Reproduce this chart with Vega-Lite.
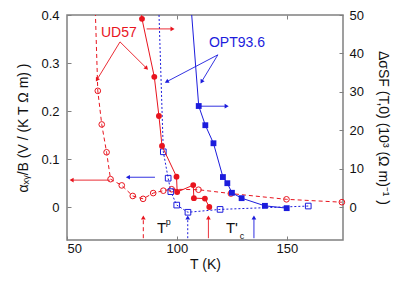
{
  "$schema": "https://vega.github.io/schema/vega-lite/v6.json",
  "width": 276,
  "height": 225,
  "autosize": {"type": "none"},
  "padding": {"left": 67, "top": 15, "right": 71, "bottom": 41},
  "background": "white",
  "config": {
    "font": "Liberation Sans",
    "view": {"stroke": "#808080", "strokeWidth": 1.5},
    "axis": {"grid": false, "domain": false, "tickColor": "#808080", "tickSize": -4, "labelFont": "Liberation Sans", "titleFont": "Liberation Sans", "labelFontSize": 13, "titleFontSize": 14, "titleFontWeight": "normal", "labelColor": "#111", "titleColor": "#111"}
  },
  "datasets": {
    "alpha": [
      {"T": 62.6, "v": 0.45, "sample": "UD57", "s": "UD57 α", "ext": true},
      {"T": 64.0, "v": 0.242, "sample": "UD57", "s": "UD57 α"},
      {"T": 65.8, "v": 0.172, "sample": "UD57", "s": "UD57 α"},
      {"T": 68.0, "v": 0.114, "sample": "UD57", "s": "UD57 α"},
      {"T": 69.8, "v": 0.058, "sample": "UD57", "s": "UD57 α"},
      {"T": 74.9, "v": 0.045, "sample": "UD57", "s": "UD57 α"},
      {"T": 79.9, "v": 0.023, "sample": "UD57", "s": "UD57 α"},
      {"T": 84.6, "v": 0.017, "sample": "UD57", "s": "UD57 α"},
      {"T": 89.2, "v": 0.029, "sample": "UD57", "s": "UD57 α"},
      {"T": 93.8, "v": 0.034, "sample": "UD57", "s": "UD57 α"},
      {"T": 97.6, "v": 0.037, "sample": "UD57", "s": "UD57 α"},
      {"T": 109.8, "v": 0.036, "sample": "UD57", "s": "UD57 α"},
      {"T": 124.5, "v": 0.028, "sample": "UD57", "s": "UD57 α"},
      {"T": 149.8, "v": 0.016, "sample": "UD57", "s": "UD57 α"},
      {"T": 175.0, "v": 0.010, "sample": "UD57", "s": "UD57 α"},
      {"T": 91.5, "v": 0.45, "sample": "OPT93.6", "s": "OPT93.6 α", "ext": true},
      {"T": 93.8, "v": 0.115, "sample": "OPT93.6", "s": "OPT93.6 α"},
      {"T": 96.0, "v": 0.060, "sample": "OPT93.6", "s": "OPT93.6 α"},
      {"T": 97.2, "v": 0.032, "sample": "OPT93.6", "s": "OPT93.6 α"},
      {"T": 99.9, "v": 0.004, "sample": "OPT93.6", "s": "OPT93.6 α"},
      {"T": 105.0, "v": -0.011, "sample": "OPT93.6", "s": "OPT93.6 α"},
      {"T": 119.6, "v": -0.005, "sample": "OPT93.6", "s": "OPT93.6 α"},
      {"T": 159.7, "v": 0.002, "sample": "OPT93.6", "s": "OPT93.6 α"}
    ],
    "sigma": [
      {"T": 83.5, "v": 53, "sample": "UD57", "s": "UD57 Δσ", "ext": true},
      {"T": 84.1, "v": 49.0, "sample": "UD57", "s": "UD57 Δσ"},
      {"T": 89.7, "v": 33.9, "sample": "UD57", "s": "UD57 Δσ"},
      {"T": 91.8, "v": 23.7, "sample": "UD57", "s": "UD57 Δσ"},
      {"T": 93.2, "v": 15.9, "sample": "UD57", "s": "UD57 Δσ"},
      {"T": 99.8, "v": 7.9, "sample": "UD57", "s": "UD57 Δσ"},
      {"T": 100.1, "v": 3.9, "sample": "UD57", "s": "UD57 Δσ"},
      {"T": 107.4, "v": 5.7, "sample": "UD57", "s": "UD57 Δσ"},
      {"T": 107.7, "v": 2.3, "sample": "UD57", "s": "UD57 Δσ"},
      {"T": 112.7, "v": 2.2, "sample": "UD57", "s": "UD57 Δσ"},
      {"T": 114.7, "v": 0.0, "sample": "UD57", "s": "UD57 Δσ"},
      {"T": 106.3, "v": 53, "sample": "OPT93.6", "s": "OPT93.6 Δσ", "ext": true},
      {"T": 109.9, "v": 26.3, "sample": "OPT93.6", "s": "OPT93.6 Δσ"},
      {"T": 112.9, "v": 21.3, "sample": "OPT93.6", "s": "OPT93.6 Δσ"},
      {"T": 116.6, "v": 16.6, "sample": "OPT93.6", "s": "OPT93.6 Δσ"},
      {"T": 120.9, "v": 7.8, "sample": "OPT93.6", "s": "OPT93.6 Δσ"},
      {"T": 122.9, "v": 6.2, "sample": "OPT93.6", "s": "OPT93.6 Δσ"},
      {"T": 125.0, "v": 3.7, "sample": "OPT93.6", "s": "OPT93.6 Δσ"},
      {"T": 129.4, "v": 2.3, "sample": "OPT93.6", "s": "OPT93.6 Δσ"},
      {"T": 140.0, "v": 0.3, "sample": "OPT93.6", "s": "OPT93.6 Δσ"},
      {"T": 149.9, "v": -0.3, "sample": "OPT93.6", "s": "OPT93.6 Δσ"}
    ],
    "pointers": [
      {"T": 74.1, "v": 0.344, "T2": 63.6, "v2": 0.265, "sample": "UD57"},
      {"T": 74.1, "v": 0.344, "T2": 86.2, "v2": 0.289, "sample": "UD57"},
      {"T": 118.6, "v": 0.317, "T2": 95.3, "v2": 0.261, "sample": "OPT93.6"},
      {"T": 118.6, "v": 0.317, "T2": 111.2, "v2": 0.261, "sample": "OPT93.6"},
      {"T": 86.2, "v": 0.371, "T2": 98.0, "v2": 0.371, "sample": "UD57"},
      {"T": 110.1, "v": 0.210, "T2": 122.6, "v2": 0.210, "sample": "OPT93.6"},
      {"T": 69.5, "v": 0.056, "T2": 52.1, "v2": 0.056, "sample": "UD57"},
      {"T": 90.0, "v": 0.062, "T2": 77.7, "v2": 0.062, "sample": "OPT93.6"}
    ],
    "tmarks": [
      {"T": 84.7, "v": -0.065, "v2": -0.022, "sample": "UD57", "s": "UD57 α"},
      {"T": 104.9, "v": -0.065, "v2": -0.022, "sample": "OPT93.6", "s": "OPT93.6 α"},
      {"T": 114.3, "v": -0.065, "v2": -0.022, "sample": "UD57", "s": "UD57 Δσ"},
      {"T": 135.0, "v": -0.065, "v2": -0.022, "sample": "OPT93.6", "s": "OPT93.6 Δσ"}
    ]
  },
  "layer": [
    {
      "layer": [
        {
          "mark": {"type": "rule", "color": "#707070", "strokeWidth": 1},
          "encoding": {"y": {"datum": 0}}
        },
        {
          "data": {"name": "alpha"},
          "mark": {"type": "line", "strokeWidth": 1, "clip": true},
          "encoding": {
            "x": {"field": "T", "type": "quantitative", "scale": {"domain": [50, 175.5], "nice": false, "zero": false}, "axis": {"orient": "bottom", "values": [50, 100, 150], "title": "T (K)", "labelPadding": 6, "titlePadding": 2}},
            "y": {"field": "v", "type": "quantitative", "scale": {"domain": [-0.06875, 0.4], "nice": false, "zero": false}, "axis": {"orient": "left", "values": [0, 0.1, 0.2, 0.3, 0.4], "format": "~g", "title": "αₓᵧ/B (V / (K T Ω m) )", "labelPadding": 12, "titlePadding": 10}},
            "color": {"field": "sample", "type": "nominal", "scale": {"domain": ["UD57", "OPT93.6"], "range": ["#e8141e", "#1c1cdc"]}, "legend": null},
            "strokeDash": {"field": "s", "type": "nominal", "scale": {"domain": ["UD57 α", "OPT93.6 α", "UD57 Δσ", "OPT93.6 Δσ"], "range": [[4, 3], [2, 2], [1, 0], [1, 0]]}, "legend": null},
            "detail": {"field": "s"}
          }
        },
        {
          "data": {"name": "alpha"},
          "transform": [{"filter": "!datum.ext"}],
          "mark": {"type": "point", "filled": false, "strokeWidth": 1, "size": 32, "opacity": 1},
          "encoding": {
            "x": {"field": "T", "type": "quantitative"},
            "y": {"field": "v", "type": "quantitative"},
            "color": {"field": "sample", "type": "nominal", "legend": null},
            "shape": {"field": "sample", "type": "nominal", "scale": {"domain": ["UD57", "OPT93.6"], "range": ["circle", "square"]}, "legend": null}
          }
        },
        {
          "data": {"name": "pointers"},
          "mark": {"type": "rule", "strokeWidth": 0.9},
          "encoding": {
            "x": {"field": "T", "type": "quantitative"},
            "y": {"field": "v", "type": "quantitative"},
            "x2": {"field": "T2"},
            "y2": {"field": "v2"},
            "color": {"field": "sample", "type": "nominal", "legend": null}
          }
        },
        {
          "data": {"name": "tmarks"},
          "mark": {"type": "rule", "strokeWidth": 1},
          "encoding": {
            "x": {"field": "T", "type": "quantitative"},
            "y": {"field": "v", "type": "quantitative"},
            "y2": {"field": "v2"},
            "color": {"field": "sample", "type": "nominal", "legend": null},
            "strokeDash": {"field": "s", "type": "nominal", "legend": null}
          }
        },
        {
          "data": {"name": "tmarks"},
          "mark": {"type": "point", "shape": "triangle-up", "filled": true, "size": 22, "opacity": 1},
          "encoding": {
            "x": {"field": "T", "type": "quantitative"},
            "y": {"field": "v2", "type": "quantitative"},
            "color": {"field": "sample", "type": "nominal", "legend": null}
          }
        },
        {
          "data": {"values": [{"T": 98.0, "v": 0.371, "sample": "UD57"}, {"T": 122.6, "v": 0.210, "sample": "OPT93.6"}]},
          "mark": {"type": "point", "shape": "triangle-right", "filled": true, "size": 22, "opacity": 1},
          "encoding": {
            "x": {"field": "T", "type": "quantitative"},
            "y": {"field": "v", "type": "quantitative"},
            "color": {"field": "sample", "type": "nominal", "legend": null}
          }
        },
        {
          "data": {"values": [{"T": 52.1, "v": 0.056, "sample": "UD57"}, {"T": 77.7, "v": 0.062, "sample": "OPT93.6"}]},
          "mark": {"type": "point", "shape": "triangle-left", "filled": true, "size": 22, "opacity": 1},
          "encoding": {
            "x": {"field": "T", "type": "quantitative"},
            "y": {"field": "v", "type": "quantitative"},
            "color": {"field": "sample", "type": "nominal", "legend": null}
          }
        },
        {
          "data": {"values": [{"T": 63.6, "v": 0.265, "sample": "UD57"}, {"T": 111.2, "v": 0.261, "sample": "OPT93.6"}]},
          "mark": {"type": "point", "shape": "triangle-up", "angle": 211, "filled": true, "size": 22, "opacity": 1},
          "encoding": {
            "x": {"field": "T", "type": "quantitative"},
            "y": {"field": "v", "type": "quantitative"},
            "color": {"field": "sample", "type": "nominal", "legend": null}
          }
        },
        {
          "data": {"values": [{"T": 86.2, "v": 0.289, "sample": "UD57"}]},
          "mark": {"type": "point", "shape": "triangle-up", "angle": 135, "filled": true, "size": 22, "opacity": 1},
          "encoding": {
            "x": {"field": "T", "type": "quantitative"},
            "y": {"field": "v", "type": "quantitative"},
            "color": {"field": "sample", "type": "nominal", "legend": null}
          }
        },
        {
          "data": {"values": [{"T": 95.3, "v": 0.261, "sample": "OPT93.6"}]},
          "mark": {"type": "point", "shape": "triangle-up", "angle": 242, "filled": true, "size": 22, "opacity": 1},
          "encoding": {
            "x": {"field": "T", "type": "quantitative"},
            "y": {"field": "v", "type": "quantitative"},
            "color": {"field": "sample", "type": "nominal", "legend": null}
          }
        },
        {
          "data": {"values": [{"T": 73.6, "v": 0.3625, "label": "UD57", "sample": "UD57"}, {"T": 127.3, "v": 0.342, "label": "OPT93.6", "sample": "OPT93.6"}]},
          "mark": {"type": "text", "fontSize": 14, "font": "Liberation Sans", "align": "center", "baseline": "middle"},
          "encoding": {
            "x": {"field": "T", "type": "quantitative"},
            "y": {"field": "v", "type": "quantitative"},
            "text": {"field": "label"},
            "color": {"field": "sample", "type": "nominal", "legend": null}
          }
        },
        {
          "data": {"values": [{"T": 93.0, "v": -0.044, "label": "T"}, {"T": 125.0, "v": -0.044, "label": "T'"}]},
          "mark": {"type": "text", "fontSize": 15, "font": "Liberation Sans", "align": "center", "baseline": "middle", "color": "#111"},
          "encoding": {
            "x": {"field": "T", "type": "quantitative"},
            "y": {"field": "v", "type": "quantitative"},
            "text": {"field": "label"}
          }
        },
        {
          "data": {"values": [{"T": 96.0, "v": -0.031, "label": "p"}, {"T": 129.6, "v": -0.06, "label": "c"}]},
          "mark": {"type": "text", "fontSize": 9, "font": "Liberation Sans", "align": "center", "baseline": "middle", "color": "#111"},
          "encoding": {
            "x": {"field": "T", "type": "quantitative"},
            "y": {"field": "v", "type": "quantitative"},
            "text": {"field": "label"}
          }
        }
      ]
    },
    {
      "layer": [
        {
          "data": {"name": "sigma"},
          "mark": {"type": "line", "strokeWidth": 1, "clip": true},
          "encoding": {
            "x": {"field": "T", "type": "quantitative", "scale": {"domain": [50, 175.5], "nice": false, "zero": false}, "axis": {"orient": "top", "values": [100, 150], "labels": false, "title": null}},
            "y": {"field": "v", "type": "quantitative", "scale": {"domain": [-8.59375, 50], "nice": false, "zero": false}, "axis": {"orient": "right", "values": [0, 10, 20, 30, 40, 50], "title": "ΔσSF (T,0) (10³ (Ω m)⁻¹ )", "labelPadding": 10, "titlePadding": 12}},
            "color": {"field": "sample", "type": "nominal", "legend": null},
            "detail": {"field": "s"}
          }
        },
        {
          "data": {"name": "sigma"},
          "transform": [{"filter": "!datum.ext"}],
          "mark": {"type": "point", "filled": true, "size": 34, "opacity": 1},
          "encoding": {
            "x": {"field": "T", "type": "quantitative"},
            "y": {"field": "v", "type": "quantitative"},
            "color": {"field": "sample", "type": "nominal", "legend": null},
            "shape": {"field": "sample", "type": "nominal", "legend": null}
          }
        }
      ]
    }
  ],
  "resolve": {"scale": {"y": "independent", "x": "independent"}}
}
